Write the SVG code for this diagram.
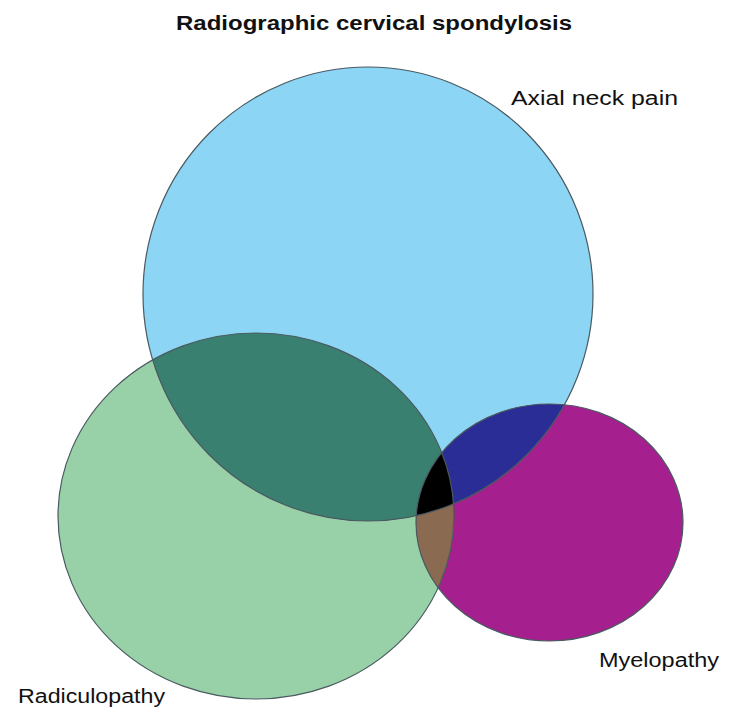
<svg xmlns="http://www.w3.org/2000/svg" width="736" height="709" viewBox="0 0 736 709">
<defs>
<style>
.lbl{font-family:"Liberation Sans",Arial,sans-serif;font-size:20px;fill:#111}
.title{font-family:"Liberation Sans",Arial,sans-serif;font-size:20px;font-weight:bold;fill:#111}
.edge{fill:none;stroke:#4a5a60;stroke-width:1.2}
</style>
<clipPath id="cBlue"><ellipse cx="368" cy="294" rx="225" ry="227"/></clipPath>
<clipPath id="cGreen"><ellipse cx="256" cy="516" rx="198" ry="183"/></clipPath>
</defs>
<rect width="736" height="709" fill="#ffffff"/>
<text class="title" x="374" y="30" text-anchor="middle" textLength="396" lengthAdjust="spacingAndGlyphs">Radiographic cervical spondylosis</text>
<g id="axial">
<ellipse cx="368" cy="294" rx="225" ry="227" fill="#8dd5f5"/>
<text class="lbl" x="511" y="105" textLength="167" lengthAdjust="spacingAndGlyphs">Axial neck pain</text>
</g>
<g id="radiculopathy">
<ellipse cx="256" cy="516" rx="198" ry="183" fill="#98d0a8"/>
<text class="lbl" x="18" y="703" textLength="147" lengthAdjust="spacingAndGlyphs">Radiculopathy</text>
</g>
<g id="myelopathy">
<ellipse cx="549.5" cy="522.5" rx="133.5" ry="118.5" fill="#a5208e"/>
<text class="lbl" x="599" y="667" textLength="120" lengthAdjust="spacingAndGlyphs">Myelopathy</text>
</g>
<g id="overlaps">
<ellipse cx="256" cy="516" rx="198" ry="183" fill="#3a8070" clip-path="url(#cBlue)"/>
<ellipse cx="549.5" cy="522.5" rx="133.5" ry="118.5" fill="#2a2d95" clip-path="url(#cBlue)"/>
<ellipse cx="549.5" cy="522.5" rx="133.5" ry="118.5" fill="#8a6a50" clip-path="url(#cGreen)"/>
<g clip-path="url(#cBlue)">
<ellipse cx="549.5" cy="522.5" rx="133.5" ry="118.5" fill="#000000" clip-path="url(#cGreen)"/>
</g>
</g>
<g id="connectors">
<ellipse class="edge" cx="368" cy="294" rx="225" ry="227"/>
<ellipse class="edge" cx="256" cy="516" rx="198" ry="183"/>
<ellipse class="edge" cx="549.5" cy="522.5" rx="133.5" ry="118.5"/>
</g>
</svg>
